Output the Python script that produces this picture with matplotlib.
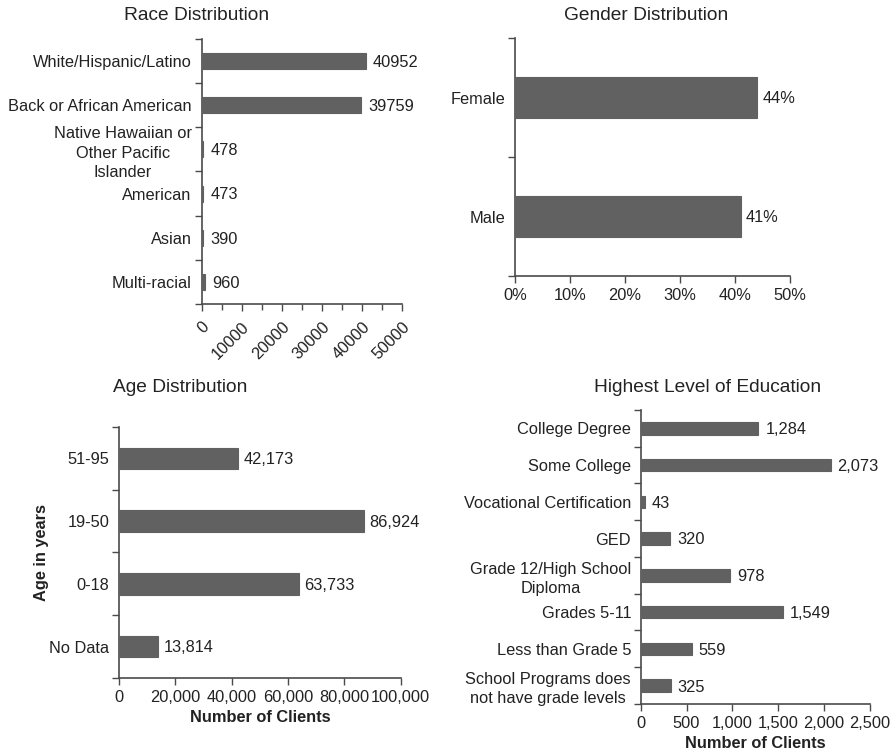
import matplotlib
matplotlib.use("Agg")
import matplotlib.pyplot as plt
from matplotlib.ticker import FuncFormatter, MultipleLocator, FixedLocator
import numpy as np

plt.rcParams['font.family'] = ['Liberation Sans', 'DejaVu Sans']

# ---- data ----
race_labels = ["White/Hispanic/Latino", "Back or African American",
               "Native Hawaiian or\nOther Pacific\nIslander", "American",
               "Asian", "Multi-racial"]
race_values = [40952, 39759, 478, 473, 390, 960]

gender_labels = ["Female", "Male"]
gender_values = [44, 41]

age_labels = ["51-95", "19-50", "0-18", "No Data"]
age_values = [42173, 86924, 63733, 13814]

edu_labels = ["College Degree", "Some College", "Vocational Certification", "GED",
              "Grade 12/High School\nDiploma", "Grades 5-11", "Less than Grade 5",
              "School Programs does\nnot have grade levels"]
edu_values = [1284, 2073, 43, 320, 978, 1549, 559, 325]

BAR = "#616161"
AX = "#4a4a4a"
TXT = "#222222"
FS = 11.8

fig = plt.figure(figsize=(8.96, 7.56), dpi=100)


def setup(ax, labels, values, height, xmax, fmt, pad):
    n = len(labels)
    pos = np.arange(n)[::-1]
    ax.barh(pos, values, height=height, color=BAR, edgecolor=BAR,
            linewidth=0.8, zorder=3)
    ax.set_ylim(-0.5, n - 0.5)
    ax.set_xlim(0, xmax)
    # category labels at bar centres, tick marks at slot boundaries
    ax.set_yticks(pos)
    ax.set_yticklabels(labels, multialignment='center', linespacing=1.35)
    ax.yaxis.set_minor_locator(FixedLocator(np.arange(n + 1) - 0.5))
    ax.tick_params(axis='y', which='major', length=0, pad=7, labelsize=FS, labelcolor=TXT)
    ax.tick_params(axis='y', which='minor', length=5, width=1, color=AX)
    ax.tick_params(axis='x', which='major', length=5, width=1, color=AX,
                   labelsize=FS, labelcolor=TXT)
    for s in ("top", "right"):
        ax.spines[s].set_visible(False)
    for s in ("left", "bottom"):
        ax.spines[s].set_color(AX)
        ax.spines[s].set_linewidth(1.2)
    for p, v in zip(pos, values):
        ax.annotate(fmt(v), (v, p), xytext=(pad, -1), textcoords='offset points',
                    ha='left', va='center', fontsize=FS, color=TXT)
    return ax


# Race
ax1 = fig.add_axes([0.2249, 0.5979, 0.2238, 0.3505])
setup(ax1, race_labels, race_values, 0.36, 50000, lambda v: f"{v}", 5)
ax1.set_xticks(np.arange(0, 50001, 10000))
ax1.xaxis.set_minor_locator(MultipleLocator(5000))
ax1.tick_params(axis='x', which='minor', length=4, width=1, color=AX)
ax1.tick_params(axis='x', which='major', pad=6)
for t in ax1.get_xticklabels():
    t.set_rotation(45)
    t.set_ha('right')
    t.set_va('top')
    t.set_rotation_mode('anchor')

# Gender
ax2 = fig.add_axes([0.5748, 0.6349, 0.3069, 0.3148])
setup(ax2, gender_labels, gender_values, 0.345, 50, lambda v: f"{v}%", 4)
ax2.set_xticks(np.arange(0, 51, 10))
ax2.xaxis.set_major_formatter(FuncFormatter(lambda x, p: f"{int(x)}%"))

# Age
ax3 = fig.add_axes([0.1328, 0.1032, 0.3144, 0.3320])
setup(ax3, age_labels, age_values, 0.34, 100000, lambda v: f"{v:,}", 4)
ax3.set_xticks(np.arange(0, 100001, 20000))
ax3.xaxis.set_major_formatter(FuncFormatter(lambda x, p: f"{int(x):,}"))
ax3.set_xlabel("Number of Clients", fontsize=FS, fontweight='bold', color=TXT, labelpad=4)
ax3.set_ylabel("Age in years", fontsize=FS, fontweight='bold', color=TXT)
ax3.yaxis.set_label_coords(-0.25, 0.5)

# Education
ax4 = fig.add_axes([0.7151, 0.0688, 0.2556, 0.3889])
setup(ax4, edu_labels, edu_values, 0.34, 2500, lambda v: f"{v:,}", 5)
ax4.set_xticks(np.arange(0, 2501, 500))
ax4.xaxis.set_major_formatter(FuncFormatter(lambda x, p: f"{int(x):,}"))
ax4.set_xlabel("Number of Clients", fontsize=FS, fontweight='bold', color=TXT, labelpad=4)

# panel titles
TFS = 13.8
fig.text(197 / 896, 1 - 16 / 756, "Race Distribution", ha='center', va='center', fontsize=TFS, color=TXT)
fig.text(646 / 896, 1 - 16 / 756, "Gender Distribution", ha='center', va='center', fontsize=TFS, color=TXT)
fig.text(180 / 896, 1 - 388 / 756, "Age Distribution", ha='center', va='center', fontsize=TFS, color=TXT)
fig.text(708 / 896, 1 - 388 / 756, "Highest Level of Education", ha='center', va='center', fontsize=TFS, color=TXT)

fig.savefig("out.png", dpi=100, facecolor='white')
